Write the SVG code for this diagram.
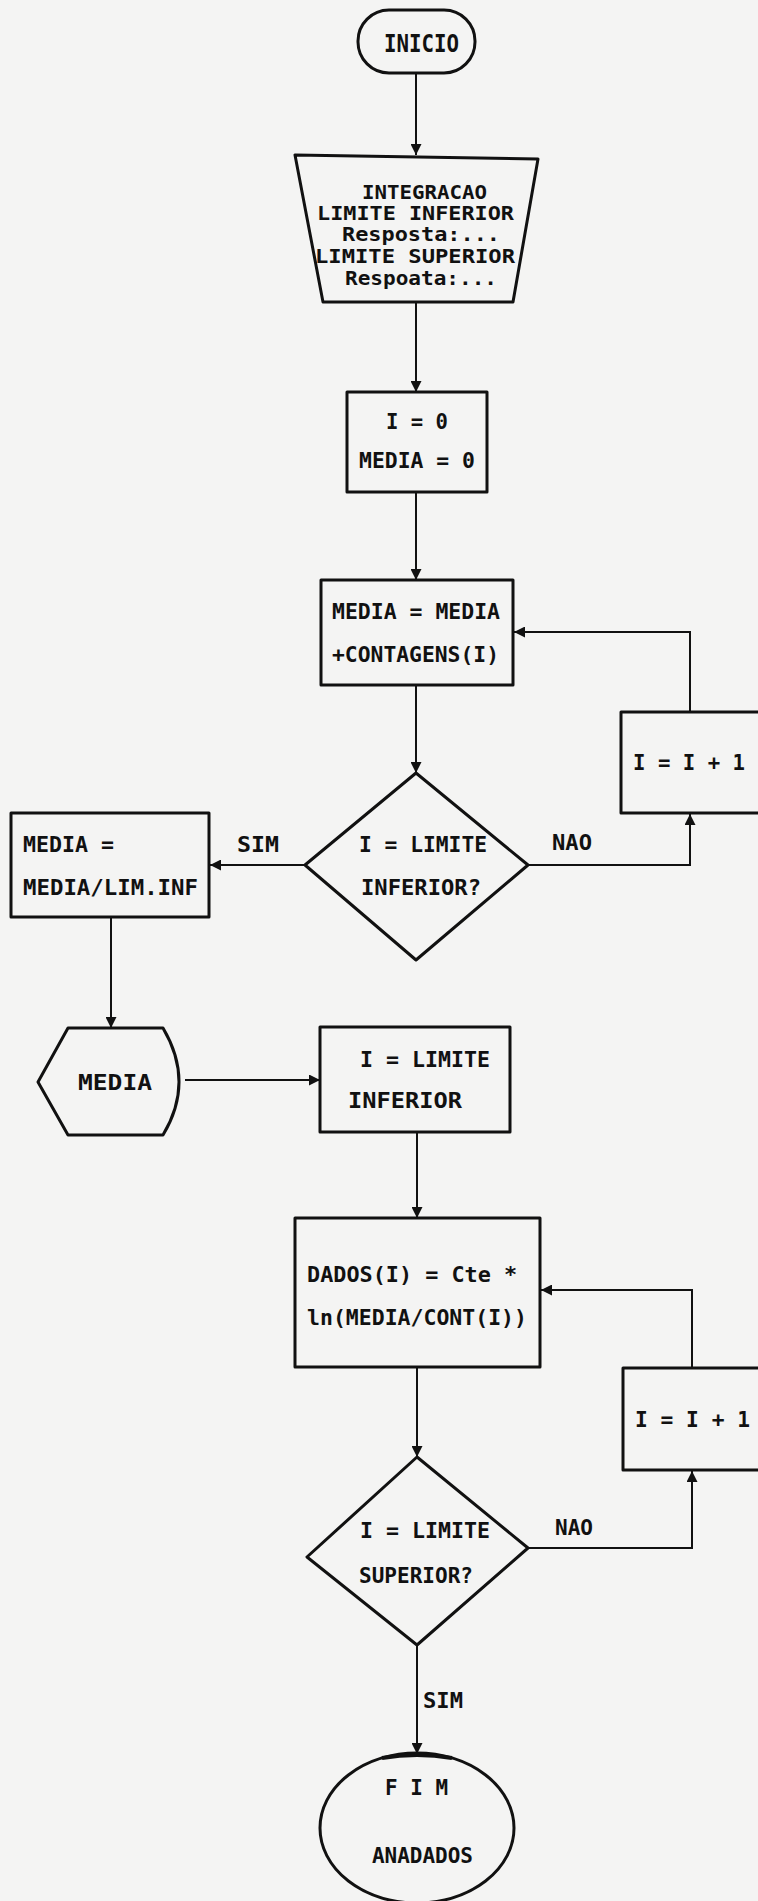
<svg xmlns="http://www.w3.org/2000/svg" width="758" height="1901" viewBox="0 0 758 1901">
<style>
.bg{fill:#f4f4f3}
.shape{fill:none;stroke:#111;stroke-width:3;stroke-linejoin:round}
.line{fill:none;stroke:#111;stroke-width:2}
.t{font-family:"DejaVu Sans Mono","Liberation Mono",monospace;font-weight:bold;font-size:22px;fill:#111}
.tb{font-size:19px}
.ti{font-size:25px}
</style>
<defs>
<marker id="ah" viewBox="0 0 10 10" refX="10" refY="5" markerWidth="7" markerHeight="5.5" orient="auto" markerUnits="strokeWidth">
<path d="M0,0 L10,5 L0,10 Z" fill="#111"/>
</marker>
</defs>
<rect class="bg" x="0" y="0" width="758" height="1901"/>

<g id="connectors">
<path class="line" marker-end="url(#ah)" d="M416,73 L416,155"/>
<path class="line" marker-end="url(#ah)" d="M416,302 L416,392"/>
<path class="line" marker-end="url(#ah)" d="M416,492 L416,580"/>
<path class="line" marker-end="url(#ah)" d="M416,685 L416,773"/>
<path class="line" marker-end="url(#ah)" d="M305,865 L210,865"/>
<path class="line" marker-end="url(#ah)" d="M528,865 L690,865 L690,814"/>
<path class="line" marker-end="url(#ah)" d="M690,712 L690,632 L514,632"/>
<path class="line" marker-end="url(#ah)" d="M111,917 L111,1028"/>
<path class="line" marker-end="url(#ah)" d="M185,1080 L320,1080"/>
<path class="line" marker-end="url(#ah)" d="M417,1132 L417,1218"/>
<path class="line" marker-end="url(#ah)" d="M417,1367 L417,1457"/>
<path class="line" marker-end="url(#ah)" d="M528,1548 L692,1548 L692,1471"/>
<path class="line" marker-end="url(#ah)" d="M692,1368 L692,1290 L541,1290"/>
<path class="line" marker-end="url(#ah)" d="M417,1645 L417,1754"/>
<text class="t" x="237" y="852" textLength="42" lengthAdjust="spacingAndGlyphs">SIM</text>
<text class="t" x="552" y="850" textLength="40" lengthAdjust="spacingAndGlyphs">NAO</text>
<text class="t" x="555" y="1535" textLength="38" lengthAdjust="spacingAndGlyphs">NAO</text>
<text class="t" x="423" y="1708" textLength="40" lengthAdjust="spacingAndGlyphs">SIM</text>
</g>

<g id="inicio">
<rect class="shape" x="358" y="10" width="117" height="63" rx="31" ry="31"/>
<text class="t ti" x="384" y="52" textLength="75" lengthAdjust="spacingAndGlyphs">INICIO</text>
</g>

<g id="entrada">
<path class="shape" d="M295,155 L538,159 L513,302 L323,302 Z"/>
<text class="t tb" x="362" y="199" textLength="125" lengthAdjust="spacingAndGlyphs">INTEGRACAO</text>
<text class="t tb" x="317" y="220" textLength="197" lengthAdjust="spacingAndGlyphs">LIMITE INFERIOR</text>
<text class="t tb" x="342" y="241" textLength="158" lengthAdjust="spacingAndGlyphs">Resposta:...</text>
<text class="t tb" x="315" y="263" textLength="200" lengthAdjust="spacingAndGlyphs">LIMITE SUPERIOR</text>
<text class="t tb" x="345" y="285" textLength="152" lengthAdjust="spacingAndGlyphs">Respoata:...</text>
</g>

<g id="init">
<rect class="shape" x="347" y="392" width="140" height="100"/>
<text class="t" x="386" y="429" textLength="62" lengthAdjust="spacingAndGlyphs">I = 0</text>
<text class="t" x="359" y="468" textLength="116" lengthAdjust="spacingAndGlyphs">MEDIA = 0</text>
</g>

<g id="soma">
<rect class="shape" x="321" y="580" width="192" height="105"/>
<text class="t" x="332" y="619" textLength="168" lengthAdjust="spacingAndGlyphs">MEDIA = MEDIA</text>
<text class="t" x="332" y="662" textLength="167" lengthAdjust="spacingAndGlyphs">+CONTAGENS(I)</text>
</g>

<g id="inc1">
<rect class="shape" x="621" y="712" width="150" height="101"/>
<text class="t" x="633" y="770" textLength="112" lengthAdjust="spacingAndGlyphs">I = I + 1</text>
</g>

<g id="dec1">
<path class="shape" d="M416,773 L528,865 L416,960 L305,865 Z"/>
<text class="t" x="359" y="852" textLength="128" lengthAdjust="spacingAndGlyphs">I = LIMITE</text>
<text class="t" x="361" y="895" textLength="120" lengthAdjust="spacingAndGlyphs">INFERIOR?</text>
</g>

<g id="divide">
<rect class="shape" x="11" y="813" width="198" height="104"/>
<text class="t" x="23" y="852" textLength="91" lengthAdjust="spacingAndGlyphs">MEDIA =</text>
<text class="t" x="23" y="895" textLength="175" lengthAdjust="spacingAndGlyphs">MEDIA/LIM.INF</text>
</g>

<g id="display">
<path class="shape" d="M38,1082 L68,1028 L163,1028 Q195,1082 163,1135 L68,1135 Z"/>
<text class="t" x="78" y="1090" textLength="74" lengthAdjust="spacingAndGlyphs">MEDIA</text>
</g>

<g id="reset">
<rect class="shape" x="320" y="1027" width="190" height="105"/>
<text class="t" x="360" y="1067" textLength="130" lengthAdjust="spacingAndGlyphs">I = LIMITE</text>
<text class="t" x="348" y="1108" textLength="114" lengthAdjust="spacingAndGlyphs">INFERIOR</text>
</g>

<g id="dados">
<rect class="shape" x="295" y="1218" width="245" height="149"/>
<text class="t" x="307" y="1282" textLength="210" lengthAdjust="spacingAndGlyphs">DADOS(I) = Cte *</text>
<text class="t" x="307" y="1325" textLength="220" lengthAdjust="spacingAndGlyphs">ln(MEDIA/CONT(I))</text>
</g>

<g id="inc2">
<rect class="shape" x="623" y="1368" width="150" height="102"/>
<text class="t" x="635" y="1427" textLength="115" lengthAdjust="spacingAndGlyphs">I = I + 1</text>
</g>

<g id="dec2">
<path class="shape" d="M417,1457 L528,1548 L417,1645 L307,1557 Z"/>
<text class="t" x="360" y="1538" textLength="130" lengthAdjust="spacingAndGlyphs">I = LIMITE</text>
<text class="t" x="359" y="1583" textLength="114" lengthAdjust="spacingAndGlyphs">SUPERIOR?</text>
</g>

<g id="fim">
<ellipse class="shape" cx="417" cy="1828" rx="97" ry="75"/>
<path d="M382,1758 Q417,1752 452,1758" fill="none" stroke="#111" stroke-width="4"/>
<text class="t" x="385" y="1795" textLength="63" lengthAdjust="spacingAndGlyphs">F I M</text>
<text class="t" x="372" y="1863" textLength="101" lengthAdjust="spacingAndGlyphs">ANADADOS</text>
</g>
</svg>
